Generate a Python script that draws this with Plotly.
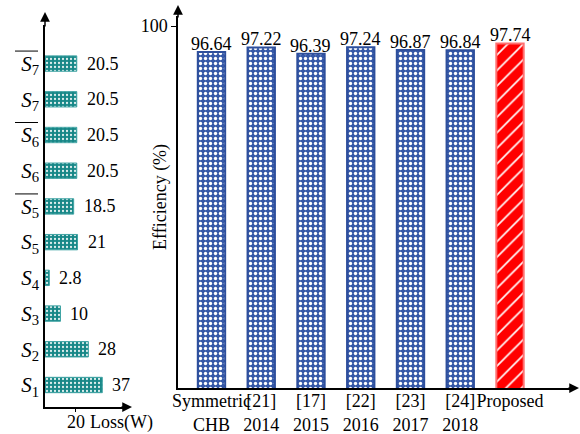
import plotly.graph_objects as go

# ---- data -------------------------------------------------------------
switches = ["S1", "S2", "S3", "S4", "S5", "S5b", "S6", "S6b", "S7", "S7b"]
switch_labels = [
    "<i>S</i><sub>1</sub>", "<i>S</i><sub>2</sub>", "<i>S</i><sub>3</sub>",
    "<i>S</i><sub>4</sub>", "<i>S</i><sub>5</sub>", "<i>S</i><sub>5</sub>",
    "<i>S</i><sub>6</sub>", "<i>S</i><sub>6</sub>", "<i>S</i><sub>7</sub>",
    "<i>S</i><sub>7</sub>",
]
complemented = ["S5b", "S6b", "S7b"]          # switches drawn with an overbar
loss_w = [37, 28, 10, 2.8, 21, 18.5, 20.5, 20.5, 20.5, 20.5]

topologies = ["Symmetric<br>CHB", "[21]<br>2014", "[17]<br>2015", "[22]<br>2016",
              "[23]<br>2017", "[24]<br>2018", "Proposed"]
efficiency = [96.64, 97.22, 96.39, 97.24, 96.87, 96.84, 97.74]

# ---- helpers ----------------------------------------------------------
W, H = 580, 434
FONT = "Liberation Serif, Times New Roman, serif"


def px(x):
    return x / W


def py(y):
    return 1 - y / H


fig = go.Figure()

# left: per-switch loss
fig.add_trace(go.Bar(
    x=loss_w, y=switches, orientation="h", xaxis="x", yaxis="y",
    width=0.43,
    marker=dict(color="#178787", line=dict(color="#3fa3a3", width=1),
                pattern=dict(shape=".", fillmode="overlay", fgcolor="white",
                             fgopacity=0.85, size=4, solidity=0.25)),
    showlegend=False, hoverinfo="skip",
))

# right: efficiency comparison
bar_colors = ["#3659a8"] * (len(topologies) - 1) + ["#ff0000"]
line_colors = ["#2e4f9c"] * (len(topologies) - 1) + ["#ff7070"]
shapes_pat = ["."] * (len(topologies) - 1) + ["/"]
sizes_pat = [5] * (len(topologies) - 1) + [11]
solid_pat = [0.35] * (len(topologies) - 1) + [0.15]
fig.add_trace(go.Bar(
    x=topologies, y=efficiency, xaxis="x2", yaxis="y2",
    width=0.55,
    marker=dict(color=bar_colors, line=dict(color=line_colors, width=2),
                pattern=dict(shape=shapes_pat, fillmode="overlay", fgcolor="white",
                             fgopacity=1, size=sizes_pat, solidity=solid_pat)),
    showlegend=False, hoverinfo="skip",
))

annotations = []

# value labels, left chart
for s, v in zip(switches, loss_w):
    annotations.append(dict(x=v, y=s, xref="x", yref="y", text=f"{v:g}",
                            showarrow=False, xanchor="left", yanchor="middle",
                            xshift=8, font=dict(family=FONT, size=18, color="black")))

# value labels, right chart
for t, v in zip(topologies, efficiency):
    annotations.append(dict(x=t, y=v, xref="x2", yref="y2", text=f"{v:.2f}",
                            showarrow=False, xanchor="center", yanchor="bottom",
                            yshift=-4, font=dict(family=FONT, size=18, color="black")))

# axis titles
annotations.append(dict(x=px(88), y=py(422), xref="paper", yref="paper", text="Loss(W)",
                        showarrow=False, xanchor="left", yanchor="middle",
                        font=dict(family=FONT, size=18, color="black")))
annotations.append(dict(x=px(160), y=py(197), xref="paper", yref="paper",
                        text="Efficiency (%)", textangle=-90, showarrow=False,
                        xanchor="center", yanchor="middle",
                        font=dict(family=FONT, size=18, color="black")))

# arrow heads on the axes
arrow = dict(xref="paper", yref="paper", text="", showarrow=True, arrowhead=2,
             arrowsize=1.3, arrowwidth=1.5, arrowcolor="black")
annotations += [
    dict(arrow, x=px(45), y=py(12), ax=0, ay=16),
    dict(arrow, x=px(132), y=py(407), ax=-12, ay=0),
    dict(arrow, x=px(178), y=py(5), ax=0, ay=14),
    dict(arrow, x=px(579), y=py(388), ax=-12, ay=0),
]

# overbars above the complemented switch labels
shapes = []
for s in complemented:
    shapes.append(dict(type="line", xref="paper", yref="y", ysizemode="pixel",
                       yanchor=switches.index(s), x0=px(15), x1=px(38), y0=12.5, y1=12.5,
                       line=dict(color="black", width=1)))

axis_common = dict(showline=True, linecolor="black", linewidth=1.5, showgrid=False,
                   zeroline=False, tickcolor="black", tickwidth=1.2, automargin=False,
                   tickfont=dict(family=FONT, size=18, color="black"))

fig.update_layout(
    width=W, height=H, margin=dict(l=0, r=0, t=0, b=0, autoexpand=False),
    paper_bgcolor="white", plot_bgcolor="white",
    font=dict(family=FONT, color="black"),
    xaxis=dict(axis_common, domain=[px(45), px(124)], range=[0, 51], anchor="y",
               tickvals=[20], ticks="outside", ticklen=3, ticklabelstandoff=-5),
    yaxis=dict(axis_common, domain=[py(407), py(25)], anchor="x", type="category",
               categoryorder="array", categoryarray=switches, range=[-0.616, 10.08],
               tickvals=switches, ticktext=switch_labels, ticks="",
               tickfont=dict(family=FONT, size=21, color="black")),
    xaxis2=dict(axis_common, domain=[px(178), px(570)], anchor="y2", type="category",
                range=[-0.673, 7.206], ticks="", tickangle=0, ticklabelstandoff=-4),
    yaxis2=dict(axis_common, domain=[py(388), py(16)], anchor="x2", range=[53, 101.3],
                tickvals=[100], ticks="outside", ticklen=5),
    bargap=0.4,
    annotations=annotations,
    shapes=shapes,
)

fig.write_html("out.html")
